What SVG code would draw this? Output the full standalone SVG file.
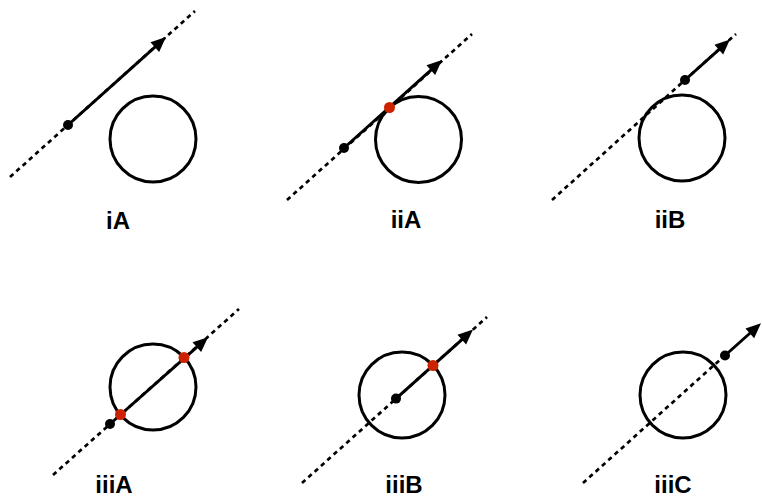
<svg xmlns="http://www.w3.org/2000/svg" width="762" height="498" viewBox="0 0 762 498">
<style>
.ray{fill:none;stroke:#000;stroke-width:2.7;stroke-dasharray:4.5 4}
.ring{fill:none;stroke:#000;stroke-width:3}
.vec{fill:none;stroke:#000;stroke-width:3;marker-end:url(#ah)}
.org{fill:#000}
.hit{fill:#CC2200}
.lbl{font-family:"Liberation Sans",Arial,Helvetica,sans-serif;font-weight:bold;font-size:24px;text-anchor:middle;fill:#000}
</style>
<defs>
<marker id="ah" markerUnits="userSpaceOnUse" markerWidth="17" markerHeight="15" refX="2" refY="6.5" orient="auto" overflow="visible">
<path d="M0,0 L15,6.5 L0,13 z" fill="#000"/>
</marker>
</defs>
<rect width="762" height="498" fill="#fff"/>

<g id="iA">
<line class="ray" x1="10" y1="177" x2="195" y2="11"/>
<circle class="ring" cx="153" cy="139" r="43"/>
<line class="vec" x1="68" y1="125" x2="156.3" y2="45.8"/>
<circle class="org" cx="68" cy="125" r="5"/>
<text class="lbl" x="118" y="229">iA</text>
</g>

<g id="iiA">
<line class="ray" x1="287" y1="200" x2="472" y2="34"/>
<circle class="ring" cx="418.5" cy="139.5" r="43"/>
<line class="vec" x1="344" y1="148" x2="432.3" y2="68.8"/>
<circle class="org" cx="344" cy="148" r="5"/>
<circle class="hit" cx="389.5" cy="107.5" r="5.5"/>
<text class="lbl" x="406" y="228">iiA</text>
</g>

<g id="iiB">
<line class="ray" x1="552" y1="200" x2="736" y2="34"/>
<circle class="ring" cx="682" cy="138" r="43"/>
<line class="vec" x1="685" y1="80" x2="720.3" y2="48.3"/>
<circle class="org" cx="685" cy="80" r="5"/>
<text class="lbl" x="670" y="228">iiB</text>
</g>

<g id="iiiA">
<line class="ray" x1="53" y1="475" x2="239" y2="309"/>
<circle class="ring" cx="153" cy="387" r="43"/>
<line class="vec" x1="110" y1="424" x2="198.3" y2="345.8"/>
<circle class="org" cx="110" cy="424" r="5"/>
<circle class="hit" cx="120.5" cy="414.5" r="5.5"/>
<circle class="hit" cx="184" cy="357.5" r="5.5"/>
<text class="lbl" x="114" y="493">iiiA</text>
</g>

<g id="iiiB">
<line class="ray" x1="302" y1="483" x2="487" y2="317"/>
<circle class="ring" cx="402" cy="395" r="43"/>
<line class="vec" x1="396" y1="398.6" x2="463.3" y2="338.3"/>
<circle class="org" cx="396" cy="398.6" r="5"/>
<circle class="hit" cx="433" cy="365.5" r="5.5"/>
<text class="lbl" x="404" y="493">iiiB</text>
</g>

<g id="iiiC">
<line class="ray" x1="583" y1="483" x2="722" y2="358"/>
<circle class="ring" cx="683" cy="395" r="43"/>
<line class="vec" x1="725" y1="355.5" x2="751.3" y2="332"/>
<circle class="org" cx="725" cy="355.5" r="5"/>
<text class="lbl" x="673" y="493">iiiC</text>
</g>
</svg>
